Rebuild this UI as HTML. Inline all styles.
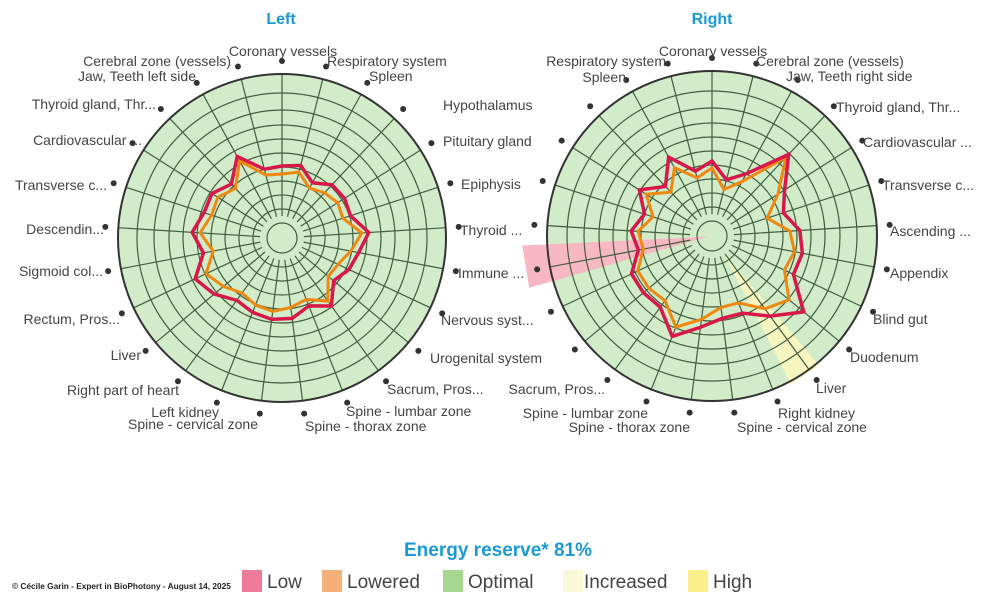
<!DOCTYPE html>
<html><head><meta charset="utf-8"><style>
html,body{margin:0;padding:0;background:#fff;}
svg{display:block;font-family:"Liberation Sans",sans-serif;}
</style></head><body>
<svg id="s" width="1000" height="608" viewBox="0 0 1000 608" xmlns="http://www.w3.org/2000/svg">
<text x="281" y="24" font-size="16" font-weight="bold" fill="#1a9ad6" text-anchor="middle">Left</text>
<text x="712" y="24" font-size="16" font-weight="bold" fill="#1a9ad6" text-anchor="middle">Right</text>
<g id="charts"></g>
<g font-size="14" fill="#444">
<text x="283" y="56" text-anchor="middle">Coronary vessels</text>
<text x="327" y="66">Respiratory system</text>
<text x="369" y="81">Spleen</text>
<text x="443" y="110">Hypothalamus</text>
<text x="443" y="146">Pituitary gland</text>
<text x="461" y="189">Epiphysis</text>
<text x="460" y="235">Thyroid ...</text>
<text x="458" y="278">Immune ...</text>
<text x="441" y="325">Nervous syst...</text>
<text x="430" y="363">Urogenital system</text>
<text x="387" y="394">Sacrum, Pros...</text>
<text x="346" y="416">Spine - lumbar zone</text>
<text x="305" y="431">Spine - thorax zone</text>
<text x="258" y="429" text-anchor="end">Spine - cervical zone</text>
<text x="219" y="417" text-anchor="end">Left kidney</text>
<text x="179" y="395" text-anchor="end">Right part of heart</text>
<text x="141" y="360" text-anchor="end">Liver</text>
<text x="120" y="324" text-anchor="end">Rectum, Pros...</text>
<text x="103" y="276" text-anchor="end">Sigmoid col...</text>
<text x="104" y="234" text-anchor="end">Descendin...</text>
<text x="107" y="190" text-anchor="end">Transverse c...</text>
<text x="142" y="145" text-anchor="end">Cardiovascular ...</text>
<text x="156" y="109" text-anchor="end">Thyroid gland, Thr...</text>
<text x="196" y="81" text-anchor="end">Jaw, Teeth left side</text>
<text x="231" y="66" text-anchor="end">Cerebral zone (vessels)</text>

<text x="713" y="56" text-anchor="middle">Coronary vessels</text>
<text x="756" y="66">Cerebral zone (vessels)</text>
<text x="786" y="81">Jaw, Teeth right side</text>
<text x="836" y="112">Thyroid gland, Thr...</text>
<text x="863" y="147">Cardiovascular ...</text>
<text x="882" y="190">Transverse c...</text>
<text x="890" y="236">Ascending ...</text>
<text x="890" y="278">Appendix</text>
<text x="873" y="324">Blind gut</text>
<text x="850" y="362">Duodenum</text>
<text x="816" y="393">Liver</text>
<text x="778" y="418">Right kidney</text>
<text x="737" y="432">Spine - cervical zone</text>
<text x="690" y="432" text-anchor="end">Spine - thorax zone</text>
<text x="648" y="418" text-anchor="end">Spine - lumbar zone</text>
<text x="605" y="394" text-anchor="end">Sacrum, Pros...</text>
<text x="666" y="66" text-anchor="end">Respiratory system</text>
<text x="626" y="82" text-anchor="end">Spleen</text>
</g>
<text x="498" y="556" font-size="19" font-weight="bold" fill="#1a9ad6" text-anchor="middle">Energy reserve* 81%</text>
<text x="12" y="589" font-size="8.3" fill="#222" font-weight="bold">© Cécile Garin - Expert in BioPhotony - August 14, 2025</text>
<g font-size="19" fill="#444">
<rect x="242" y="570" width="20" height="22" fill="#f07a9a"/><text x="267" y="588">Low</text>
<rect x="322" y="570" width="20" height="22" fill="#f5b07a"/><text x="347" y="588">Lowered</text>
<rect x="443" y="570" width="20" height="22" fill="#a6d690"/><text x="468" y="588">Optimal</text>
<rect x="563" y="570" width="20" height="22" fill="#f9f9d8"/><text x="584" y="588">Increased</text>
<rect x="688" y="570" width="20" height="22" fill="#faf08a"/><text x="713" y="588">High</text>
</g>
</svg>
<script>
var NS="http://www.w3.org/2000/svg",G=document.getElementById("charts");
function el(t,a){var e=document.createElementNS(NS,t);for(var k in a)e.setAttribute(k,a[k]);G.appendChild(e);return e;}
function pt(cx,cy,r,i){var a=(i*14.4)*Math.PI/180;return [cx+r*Math.sin(a),cy-r*Math.cos(a)];}
function wedge(cx,cy,i,r,w,col){var d=w/14.4,a=pt(cx,cy,r,i-d),b=pt(cx,cy,r,i+d),c=pt(cx,cy,4,i);
 el("polygon",{points:c.join(",")+" "+a.join(",")+" "+b.join(","),fill:col});}
function chart(cx,cy,R,red,org,extra){
 el("circle",{cx:cx,cy:cy,r:R,fill:"#d2ebc9"});
 if(extra)extra(cx,cy);
 var rings=[15,29,43,57,71,85,99,113,128,145];
 rings.forEach(function(r){el("circle",{cx:cx,cy:cy,r:r,fill:"none",stroke:"#415e41","stroke-width":1.2});});
 for(var i=0;i<25;i++){var a=pt(cx,cy,22,i),b=pt(cx,cy,R,i);
  el("line",{x1:a[0],y1:a[1],x2:b[0],y2:b[1],stroke:"#415e41","stroke-width":1.2});
  var d=pt(cx,cy,R+13,i);el("circle",{cx:d[0],cy:d[1],r:3,fill:"#333"});}
 el("circle",{cx:cx,cy:cy,r:R,fill:"none",stroke:"#333","stroke-width":2});
 function poly(v,col,w){var p=[];for(var i=0;i<25;i++)p.push(pt(cx,cy,v[i],i).join(","));
  el("polygon",{points:p.join(" "),fill:"none",stroke:col,"stroke-width":w,"stroke-linejoin":"miter"});}
 poly(org,"#f0880f",3);poly(red,"#d8174a",3.5);
}
var Lred=[72,75,63,73,74,72,87,78,74,67,84,73,81,82,80,77,88,96,80,90,82,83,74,93,71];
var Lorg=[64,68,57,62,66,64,80,70,62,60,78,66,70,74,72,68,76,84,70,82,74,76,68,88,65];
chart(282,238,164,Lred,Lorg);
var Rred=[75,58,71,112,86,75,88,92,90,119,99,83,83,92,108,88,89,89,75,81,71,86,68,90,67];
var Rorg=[68,48,62,108,78,58,78,84,80,100,90,72,72,84,98,80,82,82,70,74,62,78,60,78,60];
chart(712,236,165,Rred,Rorg,function(cx,cy){
 var a=pt(cx,cy,4,18.1),b=pt(cx,cy,190,17.65),c=pt(cx,cy,190,18.55);
 el("polygon",{points:a.join(",")+" "+b.join(",")+" "+c.join(","),fill:"#f7b8c4"});
 var d=pt(cx,cy,20,10.1),e=pt(cx,cy,168,9.75),f=pt(cx,cy,168,10.55);
 el("polygon",{points:d.join(",")+" "+e.join(",")+" "+f.join(","),fill:"#f7f5c0"});
});
</script>
</body></html>
